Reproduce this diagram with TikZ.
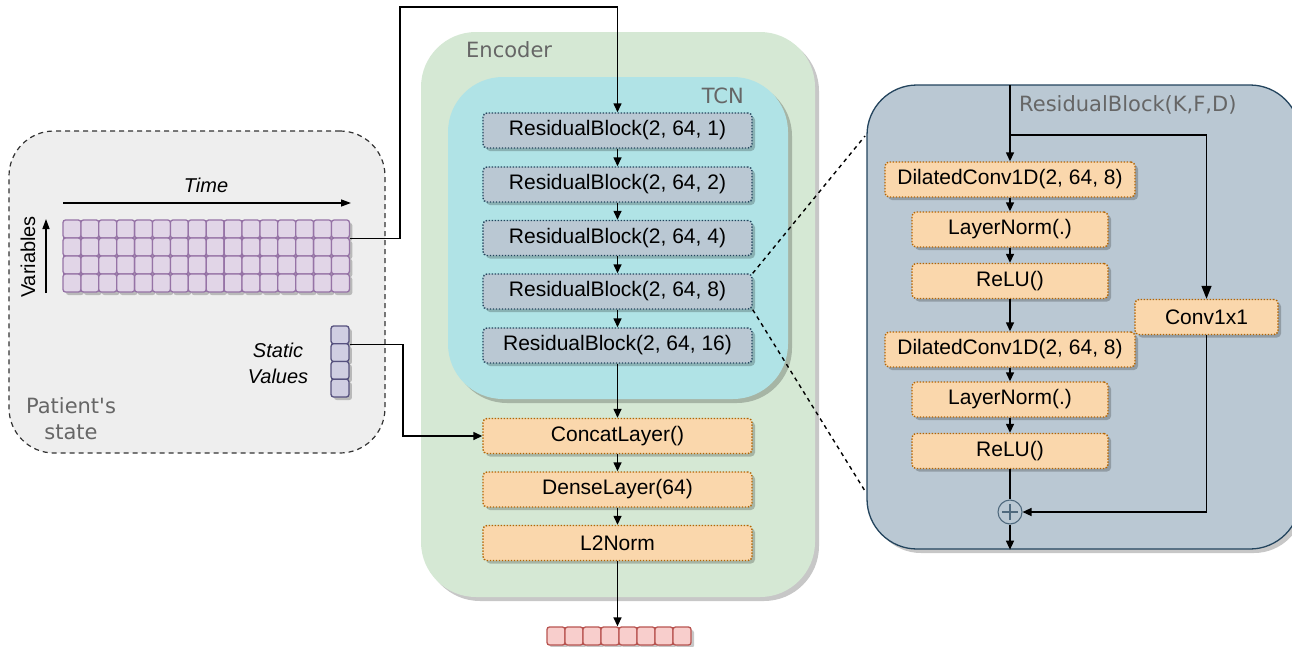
\documentclass[tikz,border=0pt]{standalone}
\usepackage{fontspec}
\setmainfont{Liberation Sans}
\newfontfamily\dvs{DejaVu Sans}
\usetikzlibrary{arrows.meta,shadows,calc}
\definecolor{rbfill}{HTML}{BAC8D3}
\definecolor{rbline}{HTML}{23445D}
\definecolor{lyfill}{HTML}{FAD7AC}
\definecolor{lyline}{HTML}{B46504}
\definecolor{encfill}{HTML}{D5E8D4}
\definecolor{tcnfill}{HTML}{B0E3E6}
\definecolor{patfill}{HTML}{EEEEEE}
\definecolor{gridfill}{HTML}{E1D5E7}
\definecolor{gridline}{HTML}{9673A6}
\definecolor{stfill}{HTML}{D0CEE2}
\definecolor{stline}{HTML}{56517E}
\definecolor{outfill}{HTML}{F8CECC}
\definecolor{outline}{HTML}{B85450}
\definecolor{labgray}{HTML}{666666}
\begin{document}
\begin{tikzpicture}[x=1pt,y=-1pt,
 shad/.style={drop shadow={shadow xshift=3pt,shadow yshift=-3pt,fill=black,opacity=0.22}},
 bigshad/.style={drop shadow={shadow xshift=4pt,shadow yshift=-4pt,fill=black,opacity=0.22}},
 blk/.style={rectangle,rounded corners=4pt,minimum height=35pt,line width=1.4pt,dash pattern=on 1.4pt off 1.6pt,shad,inner sep=0pt,font=\fontsize{21}{25}\selectfont},
 rb/.style={blk,fill=rbfill,draw=rbline,minimum width=269pt},
 ly/.style={blk,fill=lyfill,draw=lyline},
 cell/.style={rectangle,rounded corners=2.5pt,minimum width=17.9pt,minimum height=18pt,inner sep=0pt,line width=1.3pt,shad},
 gcell/.style={cell,fill=gridfill,draw=gridline},
 scell/.style={cell,fill=stfill,draw=stline,minimum height=17.75pt},
 ocell/.style={cell,fill=outfill,draw=outline,minimum width=18pt},
 group/.style={rectangle,inner sep=0pt,rounded corners=50pt},
 glabel/.style={text=labgray,font=\dvs\fontsize{21}{26}\selectfont,inner sep=0pt},
 itlabel/.style={font=\itshape\fontsize{20}{26}\selectfont,inner sep=0pt},
 conn/.style={line width=1.4pt},
 arr/.style={conn,-{Triangle[length=9pt,width=8pt]}},
 arrbig/.style={conn,-{Triangle[length=13pt,width=10pt]}},
 zoomline/.style={line width=1.4pt,dash pattern=on 4pt off 4pt},
]
\useasboundingbox (0,0) rectangle (1292,646);
\clip (0,0) rectangle (1292,646);

% group boxes
\node[group,fill=patfill,draw=black!80,line width=1.2pt,dash pattern=on 5pt off 4pt,minimum width=376pt,minimum height=322pt,rounded corners=45pt] (patient) at (197,292) {};
\node[group,fill=encfill,bigshad,minimum width=394pt,minimum height=565pt,rounded corners=55pt] (encoder) at (618,314.5) {};
\node[group,fill=tcnfill,bigshad,minimum width=340pt,minimum height=322pt,rounded corners=55pt] (tcn) at (618,238) {};
\node[group,fill=rbfill,draw=rbline,line width=1.3pt,bigshad,minimum width=433pt,minimum height=464pt] (dbox) at (1083.5,317) {};

% group labels
\node[glabel,align=center] (patlab) at (71,419) {Patient's\\state};
\node[glabel,anchor=west] (enclab) at (466,50) {Encoder};
\node[glabel,anchor=east] (tcnlab) at (744,96) {TCN};
\node[glabel,anchor=west] (rblab) at (1019,105) {ResidualBlock(K,F,D)};

% time series grid
\foreach \i in {1,...,16}
  \foreach \j in {1,...,4}
    \node[gcell] (g-\i-\j) at ({63+17.9*(\i-0.5)},{220+18*(\j-0.5)}) {};
\coordinate (tstart) at (63,203);
\coordinate (tend) at (351,203);
\draw[conn,-{Triangle[length=10pt,width=7pt]}] (tstart) -- (tend);
\node[itlabel] (timelab) at (206,185) {Time};
\coordinate (vstart) at (46,293);
\coordinate (vend) at (46,219);
\draw[conn,-{Triangle[length=10pt,width=7pt]}] (vstart) -- (vend);
\node[font=\fontsize{20}{24}\selectfont,rotate=90,inner sep=0pt] (varlab) at (28,257) {Variables};

% static values
\foreach \j in {1,...,4}
  \node[scell] (st-\j) at (340,{326+17.75*(\j-0.5)}) {};
\node[itlabel,align=center] (statlab) at (278,363) {Static\\Values};

% encoder blocks
\node[rb] (rb1) at (617.5,130.5) {ResidualBlock(2, 64, 1)};
\node[rb] (rb2) at (617.5,184.5) {ResidualBlock(2, 64, 2)};
\node[rb] (rb3) at (617.5,238) {ResidualBlock(2, 64, 4)};
\node[rb] (rb4) at (617.5,291.5) {ResidualBlock(2, 64, 8)};
\node[rb] (rb5) at (617.5,345.5) {ResidualBlock(2, 64, 16)};
\node[ly,minimum width=269pt] (concat) at (617.5,436) {ConcatLayer()};
\node[ly,minimum width=269pt] (dense) at (617.5,489.5) {DenseLayer(64)};
\node[ly,minimum width=269pt] (l2) at (617.5,543) {L2Norm};

% output embedding
\foreach \i in {1,...,8}
  \node[ocell] (out-\i) at ({547+18*(\i-0.5)},636) {};

% residual block detail
\node[ly,minimum width=250pt] (dc1) at (1010,179.5) {DilatedConv1D(2, 64, 8)};
\node[ly,minimum width=196pt] (ln1) at (1010,229.5) {LayerNorm(.)};
\node[ly,minimum width=196pt] (relu1) at (1010,281) {ReLU()};
\node[ly,minimum width=143pt] (conv) at (1206.5,317) {Conv1x1};
\node[ly,minimum width=250pt] (dc2) at (1010,349.5) {DilatedConv1D(2, 64, 8)};
\node[ly,minimum width=196pt] (ln2) at (1010,399.5) {LayerNorm(.)};
\node[ly,minimum width=196pt] (relu2) at (1010,451) {ReLU()};
\node[circle,draw=rbline!80,line width=1.1pt,minimum size=24pt,inner sep=0pt] (plus) at (1010,512) {};
\draw[rbline!80,line width=1.1pt] ($(plus.center)+(-8,0)$) -- ($(plus.center)+(8,0)$)
  ($(plus.center)+(0,-8)$) -- ($(plus.center)+(0,8)$);

% connectors: inputs
\coordinate (inbend) at (400,7);
\draw[arr] (g-16-1.south east) -| (inbend) -| (rb1.north);
\coordinate (sbend) at (403,400);
\draw[arr] (st-1.south east) -| (sbend) |- (concat.west);

% connectors: encoder chain
\draw[arr] (rb1.south) -- (rb2.north);
\draw[arr] (rb2.south) -- (rb3.north);
\draw[arr] (rb3.south) -- (rb4.north);
\draw[arr] (rb4.south) -- (rb5.north);
\draw[arr] (rb5.south) -- (concat.north);
\draw[arr] (concat.south) -- (dense.north);
\draw[arr] (dense.south) -- (l2.north);
\draw[arr] (l2.south) -- (l2.south |- out-4.north);

% zoom lines
\coordinate (z1) at (865,136);
\coordinate (z2) at (865,491);
\draw[zoomline] (rb4.north east) -- (z1);
\draw[zoomline] (rb4.south east) -- (z2);

% connectors: detail
\coordinate (dtop) at (1010,85);
\coordinate (dbranch) at (1010,135);
\draw[arr] (dtop) -- (dc1.north);
\draw[arrbig] (dbranch) -| (conv.north);
\draw[arr] (dc1.south) -- (ln1.north);
\draw[arr] (ln1.south) -- (relu1.north);
\draw[arr] (relu1.south) -- (dc2.north);
\draw[arr] (dc2.south) -- (ln2.north);
\draw[arr] (ln2.south) -- (relu2.north);
\draw[conn] (relu2.south) -- (plus.north);
\draw[arr] (plus.south) -- (plus.south |- dbox.south);
\draw[arr] (conv.south) |- (plus.east);
\end{tikzpicture}
\end{document}
